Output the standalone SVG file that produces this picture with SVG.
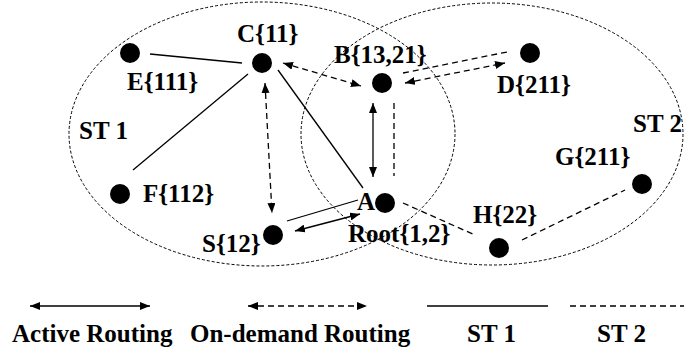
<svg xmlns="http://www.w3.org/2000/svg" width="684" height="351" viewBox="0 0 684 351">
<style>
.t{font-family:"Liberation Serif","Times New Roman",serif;font-weight:bold;font-size:25px;fill:#000}
.n{fill:#000}
.el{fill:none;stroke:#000;stroke-width:1;stroke-dasharray:3,2}
.s{fill:none;stroke:#000;stroke-width:1.3}
.d{fill:none;stroke:#000;stroke-width:1.3;stroke-dasharray:6,4}
.a{marker-start:url(#ah);marker-end:url(#ah)}
</style>
<defs>
<marker id="ah" viewBox="0 0 10 8" refX="10" refY="4" markerWidth="10" markerHeight="8" markerUnits="userSpaceOnUse" orient="auto-start-reverse">
<path d="M0,0 L10,4 L0,8 Z" fill="#000"/>
</marker>
</defs>
<rect width="684" height="351" fill="#fff"/>
<g id="subtrees">
<ellipse id="st1-region" class="el" cx="262" cy="134" rx="193" ry="132"/>
<ellipse id="st2-region" class="el" cx="492" cy="134" rx="191" ry="131"/>
<text class="t" x="79" y="139">ST 1</text>
<text class="t" x="633" y="132">ST 2</text>
</g>
<g id="connectors">
<line class="s" x1="150" y1="54" x2="242" y2="63"/>
<line class="s" x1="248" y1="74" x2="133" y2="170"/>
<line class="s" x1="278" y1="70" x2="363" y2="188"/>
<line class="d a" x1="265" y1="83" x2="272" y2="213"/>
<line class="d a" x1="283" y1="63" x2="361" y2="86"/>
<line class="d" x1="403" y1="73" x2="507" y2="52"/>
<line class="d a" x1="405" y1="83" x2="505" y2="63"/>
<line class="s a" x1="373" y1="103" x2="373" y2="177"/>
<line class="d" x1="394" y1="103" x2="394" y2="176"/>
<line class="s" x1="358" y1="200" x2="287" y2="221"/>
<line class="s a" x1="360" y1="214" x2="295" y2="231"/>
<line class="d" x1="403" y1="203" x2="475" y2="235"/>
<line class="d" x1="522" y1="240" x2="625" y2="190"/>
</g>
<g id="node-C"><circle class="n" cx="262" cy="63" r="10"/><text class="t" x="237" y="42">C{11}</text></g>
<g id="node-E"><circle class="n" cx="130" cy="53" r="10"/><text class="t" x="127" y="90">E{111}</text></g>
<g id="node-B"><circle class="n" cx="382" cy="83" r="10"/><text class="t" x="334" y="63">B{13,21}</text></g>
<g id="node-D"><circle class="n" cx="530" cy="53" r="10"/><text class="t" x="497" y="93">D{211}</text></g>
<g id="node-G"><circle class="n" cx="642" cy="184" r="10"/><text class="t" x="555" y="165">G{211}</text></g>
<g id="node-F"><circle class="n" cx="120" cy="194" r="10"/><text class="t" x="143" y="202">F{112}</text></g>
<g id="node-S"><circle class="n" cx="273" cy="235" r="10"/><text class="t" x="202" y="252">S{12}</text></g>
<g id="node-A"><circle class="n" cx="385" cy="203" r="10"/><text class="t" x="357" y="210">A</text><text class="t" x="348" y="242">Root{1,2}</text></g>
<g id="node-H"><circle class="n" cx="499" cy="248" r="10"/><text class="t" x="473" y="223">H{22}</text></g>
<g id="legend">
<line class="s a" x1="30" y1="306" x2="150" y2="306"/>
<line class="d a" x1="248" y1="306" x2="367" y2="306"/>
<line class="s" x1="427" y1="306" x2="548" y2="306"/>
<line class="d" x1="570" y1="306" x2="684" y2="306"/>
<text class="t" x="12" y="342">Active Routing</text>
<text class="t" x="190" y="342">On-demand Routing</text>
<text class="t" x="467" y="342">ST 1</text>
<text class="t" x="597" y="342">ST 2</text>
</g>
</svg>
